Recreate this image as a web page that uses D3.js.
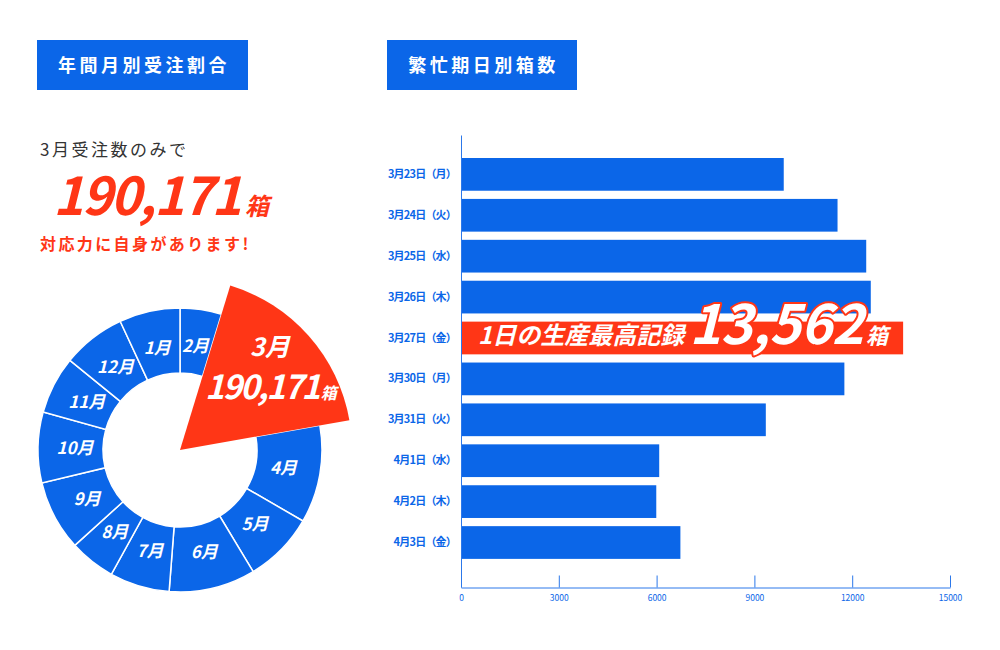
<!DOCTYPE html>
<html>
<head>
<meta charset="utf-8">
<script src="https://cdn.jsdelivr.net/npm/d3@7"></script>
<style>
  body { margin: 0; background: #fff; }
  svg { display: block; font-family: "Noto Sans CJK JP", "Noto Sans", sans-serif; }
</style>
</head>
<body>
<svg id="chart" width="1000" height="650"></svg>
<script>
// monthly orders, clockwise from 12 o'clock
const months = ["2月", "3月", "4月", "5月", "6月", "7月", "8月", "9月", "10月", "11月", "12月", "1月"];
const monthValues = [51300, 190171, 120700, 87500, 106900, 74000, 57000, 86900, 87200, 71500, 78200, 75200];
const highlightMonth = "3月";

// busy-season daily boxes
const days = ["3月23日（月）", "3月24日（火）", "3月25日（水）", "3月26日（木）", "3月27日（金）",
              "3月30日（月）", "3月31日（火）", "4月1日（水）", "4月2日（木）", "4月3日（金）"];
const dayValues = [9900, 11550, 12430, 12570, 13562, 11760, 9350, 6080, 5990, 6730];
const xTicks = [0, 3000, 6000, 9000, 12000, 15000];

const BLUE = "#0B66E8";
const RED = "#FF3616";
const AXIS = "#2c78ea";

const svg = d3.select("#chart");

// ---- title boxes
function titleBox(x, y, w, h, label) {
  const g = svg.append("g");
  g.append("rect").attr("x", x).attr("y", y).attr("width", w).attr("height", h).attr("fill", BLUE);
  g.append("text")
    .attr("x", x + w / 2 + 1.5).attr("y", y + h / 2 + 7)
    .attr("text-anchor", "middle")
    .attr("fill", "#fff")
    .attr("font-size", 18).attr("font-weight", 700)
    .attr("letter-spacing", 3.5)
    .text(label);
}
titleBox(37, 40, 211, 50, "年間月別受注割合");
titleBox(387, 40, 190, 50, "繁忙期日別箱数");

// ---- left headline
svg.append("text")
  .attr("x", 40).attr("y", 156)
  .attr("fill", "#333").attr("font-size", 17).attr("letter-spacing", 2.5)
  .text("3月受注数のみで");

const big = svg.append("text")
  .attr("x", 53).attr("y", 215)
  .attr("fill", RED).attr("font-weight", 700).attr("font-style", "italic");
big.append("tspan").attr("font-size", 52).attr("letter-spacing", -2).text(d3.format(",")(monthValues[months.indexOf(highlightMonth)]));
big.append("tspan").attr("font-size", 24).attr("dx", 5).text("箱");

svg.append("text")
  .attr("x", 40).attr("y", 250)
  .attr("fill", RED).attr("font-size", 16).attr("font-weight", 700).attr("letter-spacing", 2.4)
  .text("対応力に自身があります!");

// ---- donut
const pieData = d3.pie().sort(null).value(d => d.value)(
  months.map((m, i) => ({ month: m, value: monthValues[i] }))
);
const arcBlue = d3.arc().innerRadius(77).outerRadius(142);
const arcRed = d3.arc().innerRadius(0).outerRadius(172);
const labelArc = d3.arc().innerRadius(70).outerRadius(140);
const labelArcRed = d3.arc().innerRadius(68).outerRadius(172);

const donut = svg.append("g").attr("transform", "translate(180,450)");

donut.selectAll("path.m")
  .data(pieData.filter(d => d.data.month !== highlightMonth))
  .join("path")
  .attr("class", "m")
  .attr("d", arcBlue)
  .attr("fill", BLUE)
  .attr("stroke", "#fff")
  .attr("stroke-width", 1.5);

donut.selectAll("text.m")
  .data(pieData.filter(d => d.data.month !== highlightMonth))
  .join("text")
  .attr("class", "m")
  .attr("transform", d => `translate(${labelArc.centroid(d)})`)
  .attr("text-anchor", "middle")
  .attr("dy", "0.36em")
  .attr("fill", "#fff")
  .attr("font-size", 17).attr("font-weight", 700).attr("font-style", "italic")
  .text(d => d.data.month);

const hi = pieData.find(d => d.data.month === highlightMonth);
donut.append("path").attr("d", arcRed(hi)).attr("fill", RED);

const [hx, hy] = labelArcRed.centroid(hi);
donut.append("text")
  .attr("x", hx).attr("y", hy - 15)
  .attr("text-anchor", "middle")
  .attr("fill", "#fff").attr("font-size", 25).attr("font-weight", 700).attr("font-style", "italic")
  .text(hi.data.month);
const hiVal = donut.append("text")
  .attr("x", hx + 1).attr("y", hy + 28)
  .attr("text-anchor", "middle")
  .attr("fill", "#fff").attr("font-weight", 700).attr("font-style", "italic");
hiVal.append("tspan").attr("font-size", 33).attr("letter-spacing", -2).text(d3.format(",")(hi.data.value));
hiVal.append("tspan").attr("font-size", 16).attr("dx", 2).text("箱");

// ---- bar chart
const x = d3.scaleLinear().domain([0, 15000]).range([461, 950]);
const y = d3.scaleBand().domain(days).range([135, 587])
  .paddingInner(0.2).paddingOuter(0.625).align(0.45);

const maxVal = d3.max(dayValues);

svg.append("g")
  .selectAll("rect")
  .data(days)
  .join("rect")
  .attr("x", x(0))
  .attr("y", d => y(d))
  .attr("width", (d, i) => x(dayValues[i]) - x(0))
  .attr("height", y.bandwidth())
  .attr("fill", (d, i) => dayValues[i] === maxVal ? RED : BLUE);

// y axis
const yAxis = svg.append("g")
  .attr("transform", `translate(${x(0)},0)`)
  .call(d3.axisLeft(y).tickSize(0).tickPadding(5));
yAxis.select(".domain").attr("stroke", AXIS);
yAxis.selectAll("text")
  .attr("fill", BLUE).attr("font-size", 11).attr("font-weight", 700).attr("letter-spacing", -0.8)
  .attr("font-family", "'Noto Sans CJK JP', sans-serif");

// x axis
const xAxis = svg.append("g")
  .attr("transform", "translate(0,587.5)")
  .call(d3.axisBottom(x).tickValues(xTicks).tickFormat(d3.format("d")).tickSize(-12).tickSizeOuter(0).tickPadding(7));
xAxis.select(".domain").attr("stroke", AXIS);
xAxis.selectAll(".tick line").attr("stroke", AXIS);
xAxis.selectAll("text")
  .attr("fill", BLUE).attr("font-size", 8.5)
  .attr("font-family", "'Noto Sans CJK JP', sans-serif");

// record label on the top bar
const topDay = days[dayValues.indexOf(maxVal)];
const rec = svg.append("text")
  .attr("x", x(0) + 17)
  .attr("y", y(topDay) + y.bandwidth() / 2 + 6)
  .attr("fill", "#fff").attr("font-weight", 700).attr("font-style", "italic")
  .attr("stroke", RED).attr("stroke-width", 4).attr("stroke-linejoin", "round")
  .attr("paint-order", "stroke");
rec.append("tspan").attr("font-size", 24).text("1日の生産最高記録");
rec.append("tspan").attr("font-size", 54).attr("dx", 5).attr("letter-spacing", -0.5).text(d3.format(",")(maxVal));
rec.append("tspan").attr("font-size", 22).attr("dx", 3).text("箱");
</script>
</body>
</html>
